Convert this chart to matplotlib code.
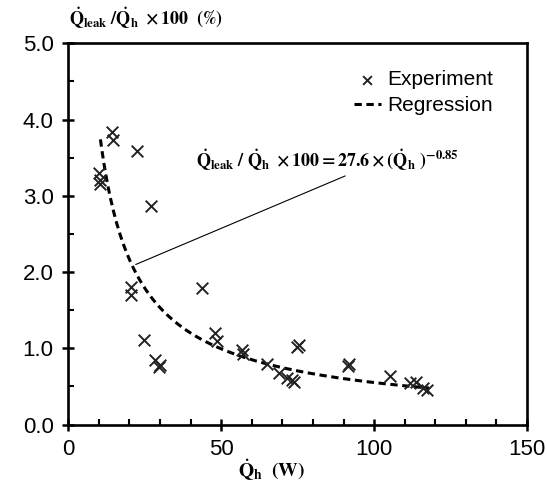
import numpy as np
import matplotlib
matplotlib.use("Agg")
import matplotlib.pyplot as plt
from matplotlib.ticker import MultipleLocator, FormatStrFormatter

plt.rcParams['font.family'] = ['Liberation Sans', 'DejaVu Sans']
plt.rcParams['mathtext.fontset'] = 'stix'
plt.rcParams['mathtext.default'] = 'bf'

# experiment points, heat load (W) vs leak ratio (%)
q_h = [10.1, 10.4, 10.2, 14.2, 14.7, 22.6, 27.0,
       20.4, 20.4, 24.8, 28.4, 30.0, 29.5,
       43.6, 48.0, 48.5, 56.7, 57.2, 65.1, 69.0, 71.4, 73.0, 73.8, 74.7, 75.6,
       91.6, 91.8, 105.2, 111.8, 113.7, 116.1, 117.2]
leak_pct = [3.30, 3.21, 3.15, 3.84, 3.73, 3.59, 2.87,
            1.81, 1.70, 1.11, 0.85, 0.78, 0.76,
            1.79, 1.20, 1.09, 0.98, 0.93, 0.79, 0.67, 0.61, 0.59, 0.56, 1.02, 1.04,
            0.77, 0.80, 0.63, 0.55, 0.56, 0.48, 0.45]

# regression coefficients given in the chart
coef_a = 27.6
coef_b = -0.85
fit_range = (10.5, 118)

fig = plt.figure(figsize=(5.47, 4.87), dpi=100)
ax = fig.add_axes([0.1249, 0.1283, 0.8385, 0.7827])

ax.scatter(q_h, leak_pct, marker='x', s=70, color='#222222', linewidths=1.4,
           label='Experiment', zorder=3)

xf = np.linspace(fit_range[0], fit_range[1], 200)
ax.plot(xf, coef_a * xf ** coef_b, color='black', lw=2.2, dashes=(2.4, 1.5),
        label='Regression', zorder=2)

# annotation pointing at the curve
ax.plot([22.1, 90.5], [2.10, 3.26], color='black', lw=0.8)
ax.text(41.8, 3.47, r'$\dot{Q}_{leak}\ /\ \dot{Q}_h\ \times 100 = 27.6\times(\dot{Q}_h\ )^{-0.85}$',
        fontsize=13, va='center', ha='left')

ax.set_xlim(0, 150)
ax.set_ylim(0, 5)
ax.xaxis.set_major_locator(MultipleLocator(50))
ax.xaxis.set_minor_locator(MultipleLocator(10))
ax.yaxis.set_major_locator(MultipleLocator(1))
ax.yaxis.set_minor_locator(MultipleLocator(0.5))
ax.yaxis.set_major_formatter(FormatStrFormatter('%.1f'))
ax.tick_params(which='major', direction='inout', length=9, width=1.8,
               labelsize=16, pad=6)
ax.tick_params(which='minor', direction='in', length=4, width=1.5)
for s in ax.spines.values():
    s.set_linewidth(1.9)

ax.set_xlabel(r'$\dot{Q}_h\ \ (W)$', fontsize=14)
ax.xaxis.set_label_coords(0.444, -0.085)
fig.text(0.126, 0.962, r'$\dot{Q}_{leak}\ /\dot{Q}_h\ \times 100\ \ (\%)$',
         fontsize=13, ha='left', va='center')

ax.legend(loc='upper right', bbox_to_anchor=(0.944, 0.952), frameon=False,
          fontsize=15, handlelength=1.3, handletextpad=0.3, borderaxespad=0,
          labelspacing=0.35, markerscale=0.75)

fig.savefig('out.png', dpi=100)
